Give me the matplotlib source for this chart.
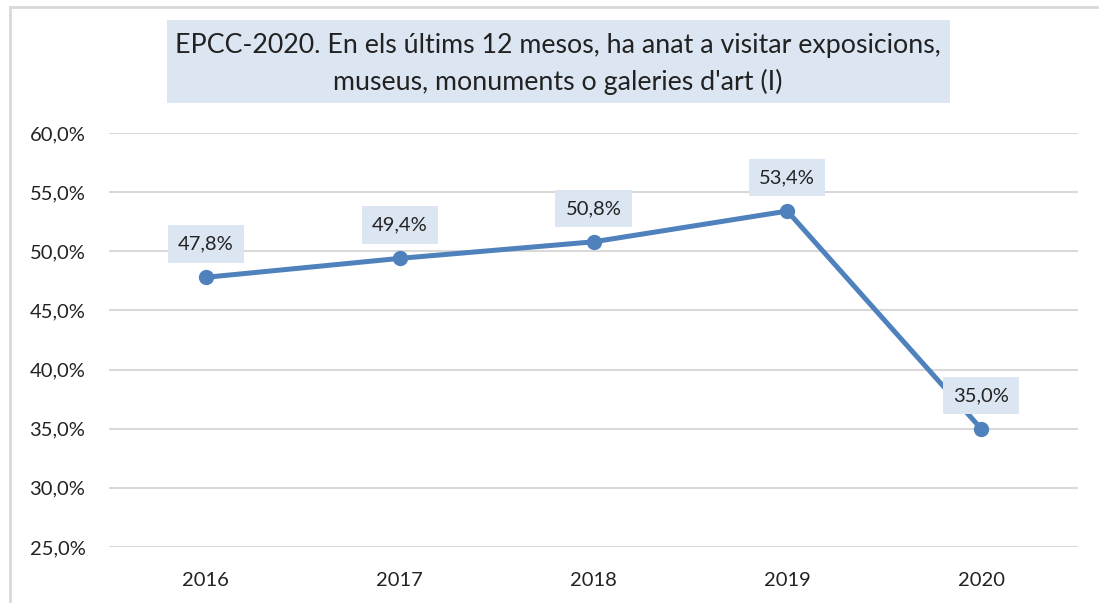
import matplotlib
matplotlib.use("Agg")
import matplotlib.pyplot as plt
from matplotlib.lines import Line2D
from matplotlib.patches import Rectangle

years = ["2016", "2017", "2018", "2019", "2020"]
values = [47.8, 49.4, 50.8, 53.4, 35.0]
yticks = [25, 30, 35, 40, 45, 50, 55, 60]
title = "EPCC-2020. En els últims 12 mesos, ha anat a visitar exposicions,\nmuseus, monuments o galeries d'art (I)"

FONT = "Lato"
LINE = "#4f81bd"
BOX = "#dce6f2"
GRID = "#d9d9d9"
W, H = 1099, 603

fig = plt.figure(figsize=(10.99, 6.03), dpi=100)
ax = fig.add_axes([109/W, 1-547/H, (1078-109)/W, (547-133)/H])

x = list(range(len(years)))
ax.plot(x, values, color=LINE, lw=3.6, marker="o", markersize=10, zorder=3,
        solid_capstyle="round")

ax.set_xlim(-0.5, len(years) - 0.5)
ax.set_ylim(25, 60)
ax.set_yticks(yticks)
ax.set_yticklabels([f"{t:.1f}%".replace(".", ",") for t in yticks],
                   fontfamily=FONT, fontsize=14.5, color="#222222")
ax.set_xticks(x)
ax.set_xticklabels(years, fontfamily=FONT, fontsize=14.5, color="#222222")
ax.tick_params(axis="both", length=0)
ax.tick_params(axis="y", pad=17)
ax.tick_params(axis="x", pad=18)
for s in ax.spines.values():
    s.set_visible(False)
ax.grid(axis="y", color=GRID, lw=1.5)
ax.set_axisbelow(True)

for xi, v in zip(x, values):
    ax.annotate(f"{v:.1f}%".replace(".", ","), (xi, v), xytext=(0, 24),
                textcoords="offset points", ha="center", va="center",
                fontfamily=FONT, fontsize=14.5, color="#222222", zorder=5,
                bbox=dict(boxstyle="square,pad=0.5", fc=BOX, ec="none"))

fig.add_artist(Rectangle((167/W, 1-103/H), (950-167)/W, (103-20)/H,
                         transform=fig.transFigure, fc=BOX, ec="none"))
fig.text(558/W, 1-64/H, title, ha="center", va="center",
         fontfamily=FONT, fontsize=19.3, color="#222222", linespacing=1.5)

# chart border (top and left visible)
fig.add_artist(Line2D([10/W, 10/W], [0, 1-7/H], transform=fig.transFigure,
                      color=GRID, lw=2))
fig.add_artist(Line2D([10/W, 1], [1-7/H, 1-7/H], transform=fig.transFigure,
                      color=GRID, lw=2))

fig.savefig("out.png", dpi=100)
